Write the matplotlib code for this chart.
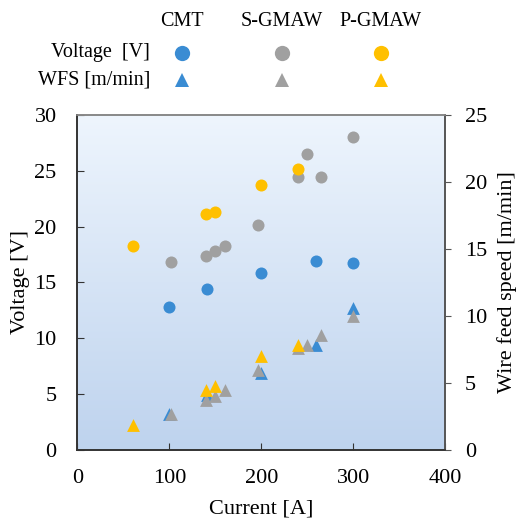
import numpy as np
import matplotlib
matplotlib.use("Agg")
import matplotlib.pyplot as plt
from matplotlib.colors import LinearSegmentedColormap

plt.rcParams['font.family'] = ['Liberation Serif', 'DejaVu Serif']

# Data
cmt_v_I = [100, 141, 200, 260, 300]
cmt_v = [12.8, 14.4, 15.8, 16.9, 16.7]
sg_v_I = [102, 140, 150, 160, 196, 240, 250, 265, 300]
sg_v = [16.8, 17.4, 17.8, 18.3, 20.1, 24.4, 26.5, 24.4, 28.0]
pg_v_I = [60, 140, 150, 200, 240]
pg_v = [18.3, 21.1, 21.3, 23.75, 25.15]

cmt_w_I = [100, 141, 200, 260, 300]
cmt_w = [2.7, 4.1, 5.75, 7.8, 10.55]
sg_w_I = [102, 140, 150, 160, 196, 240, 250, 265, 300]
sg_w = [2.65, 3.75, 4.0, 4.45, 5.95, 7.6, 7.85, 8.55, 10.0]
pg_w_I = [60, 140, 150, 200, 240]
pg_w = [1.85, 4.45, 4.75, 7.0, 7.85]

series_names = ["CMT", "S-GMAW", "P-GMAW"]
colors = ["#3A8CD3", "#A0A0A0", "#FFC000"]
row_labels = ["Voltage  [V]", "WFS [m/min]"]

fig = plt.figure(figsize=(5.18, 5.20), dpi=100)
ax = fig.add_axes([0.1496, 0.135, 0.7095, 0.644])
ax2 = ax.twinx()

# gradient background
grad = np.linspace(0, 1, 256).reshape(-1, 1)
cm = LinearSegmentedColormap.from_list("bg", ["#EEF5FD", "#BED3EE"])
ax.imshow(grad, aspect='auto', cmap=cm, extent=[0, 1, 0, 1],
          transform=ax.transAxes, zorder=0)

for I, v, c in zip([cmt_v_I, sg_v_I, pg_v_I], [cmt_v, sg_v, pg_v], colors):
    ax.scatter(I, v, s=75, color=c, marker='o', linewidths=0, zorder=3)
for I, w, c in zip([cmt_w_I, sg_w_I, pg_w_I], [cmt_w, sg_w, pg_w], colors):
    ax2.scatter(I, w, s=85, color=c, marker='^', linewidths=0, zorder=3)

ax.set_xlim(0, 400)
ax.set_ylim(0, 30)
ax2.set_ylim(0, 25)
ax.set_xticks([0, 100, 200, 300, 400])
ax.set_yticks([0, 5, 10, 15, 20, 25, 30])
ax2.set_yticks([0, 5, 10, 15, 20, 25])

fs = 16
ax.tick_params(axis='x', direction='in', labelsize=fs, length=5, color='#333333', pad=14)
ax.tick_params(axis='y', direction='in', labelsize=fs, length=5, color='#333333', pad=15)
ax2.tick_params(axis='y', direction='out', labelsize=fs, length=4.5, color='#555555', pad=10)

for a in (ax, ax2):
    a.spines['left'].set_color('#333333')
    a.spines['bottom'].set_color('#333333')
    a.spines['right'].set_color('#555555')
    a.spines['top'].set_color('#888888')
    for s in a.spines.values():
        s.set_linewidth(1.2)

ax.set_xlabel("Current [A]", fontsize=fs, labelpad=8)
ax.set_ylabel("Voltage [V]", fontsize=fs, labelpad=3)
ax2.set_ylabel("Wire feed speed [m/min]", fontsize=fs, labelpad=7)

# custom legend in figure coords
lfs = 14.5
col_x = [182 / 518, 282 / 518, 381 / 518]
for x, name in zip(col_x, series_names):
    fig.text(x, 1 - 21 / 520, name, ha='center', va='center', fontsize=lfs)
fig.text(150 / 518, 1 - 52 / 520, row_labels[0], ha='right', va='center', fontsize=lfs)
fig.text(150 / 518, 1 - 80 / 520, row_labels[1], ha='right', va='center', fontsize=lfs)
for x, c in zip(col_x, colors):
    fig.add_artist(plt.Line2D([x], [1 - 53 / 520], marker='o', markersize=11,
                              color=c, markeredgewidth=0, transform=fig.transFigure))
    fig.add_artist(plt.Line2D([x], [1 - 80 / 520], marker='^', markersize=10.5,
                              color=c, markeredgewidth=0, transform=fig.transFigure))

fig.savefig("out.png", dpi=100, facecolor='white')
